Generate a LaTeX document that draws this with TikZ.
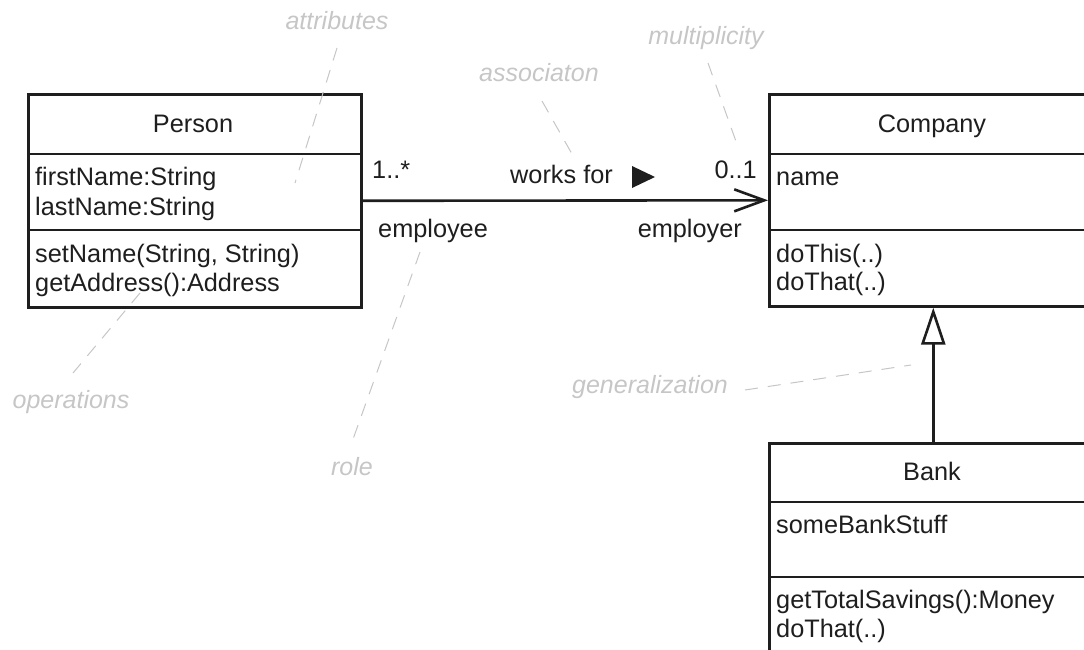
\documentclass[tikz,border=0pt]{standalone}
\usepackage{fontspec}
\setmainfont{Liberation Sans}
\usetikzlibrary{arrows.meta}

\definecolor{annotgray}{RGB}{198,198,198}
\definecolor{umlink}{RGB}{30,30,30}

\tikzset{
  classbox/.style={draw=umlink, line width=2.6pt, fill=white, inner sep=0pt, anchor=north west},
  divider/.style={draw=umlink, line width=2.4pt},
  txt/.style={inner sep=0pt, text=umlink, font=\fontsize{25.3}{30}\selectfont},
  annot/.style={inner sep=0pt, text=annotgray, font=\fontsize{25}{30}\selectfont\itshape},
  annotline/.style={draw=annotgray, line width=1pt, dash pattern=on 13pt off 10pt},
  assoc/.style={draw=umlink, line width=2.6pt, -{Straight Barb[length=30pt,width=22pt]}},
  gen/.style={draw=umlink, line width=2.6pt, -{Triangle[open,length=37pt,width=24pt,fill=white]}}
}

\begin{document}
\begin{tikzpicture}[x=1pt,y=-1pt]
\useasboundingbox (0,0) rectangle (1084,650);
\begin{scope}
\clip (0,0) rectangle (1084,650);

% annotation leader lines (drawn first, class boxes sit on top)
\coordinate (attrA) at (337,48);   \coordinate (attrB) at (295,183);
\coordinate (operA) at (140,293);  \coordinate (operB) at (73,373);
\coordinate (roleA) at (420,252);  \coordinate (roleB) at (352,442);
\coordinate (assoA) at (542,101);  \coordinate (assoB) at (572,154);
\coordinate (multA) at (708,63);   \coordinate (multB) at (738,147);
\coordinate (geneA) at (745,390);  \coordinate (geneB) at (911,365);
\draw[annotline] (attrA) -- (attrB);
\draw[annotline] (operA) -- (operB);
\draw[annotline] (roleA) -- (roleB);
\draw[annotline] (assoA) -- (assoB);
\draw[annotline] (multA) -- (multB);
\draw[annotline] (geneA) -- (geneB);

% classes
\node[classbox, minimum width=333pt, minimum height=213pt] (person) at (27,93) {};
\node[classbox, minimum width=328pt, minimum height=212pt] (company) at (768,93) {};
\node[classbox, minimum width=328pt, minimum height=250pt] (bank) at (768,442) {};

% compartment dividers
\draw[divider] (person.west |- 0,154) -- (person.east |- 0,154);
\draw[divider] (person.west |- 0,230) -- (person.east |- 0,230);
\draw[divider] (company.west |- 0,154) -- (company.east |- 0,154);
\draw[divider] (company.west |- 0,230) -- (company.east |- 0,230);
\draw[divider] (bank.west |- 0,502) -- (bank.east |- 0,502);
\draw[divider] (bank.west |- 0,577) -- (bank.east |- 0,577);

% redraw the annotation line over the Person box where it crosses it
\begin{scope}
\clip (person.north west) rectangle (person.south east);
\draw[annotline] (attrA) -- (attrB);
\draw[annotline] (operA) -- (operB);
\end{scope}

% Person
\node[txt, anchor=base] (personT) at (193,132) {Person};
\node[txt, anchor=base west] (p1) at (35,185) {firstName:String};
\node[txt, anchor=base west] (p2) at (35,215) {lastName:String};
\node[txt, anchor=base west] (p3) at (35,262) {setName(String, String)};
\node[txt, anchor=base west] (p4) at (35,291) {getAddress():Address};

% Company
\node[txt, anchor=base] (companyT) at (932,132) {Company};
\node[txt, anchor=base west] (c1) at (776,185) {name};
\node[txt, anchor=base west] (c2) at (776,262) {doThis(..)};
\node[txt, anchor=base west] (c3) at (776,290) {doThat(..)};

% Bank
\node[txt, anchor=base] (bankT) at (932,480) {Bank};
\node[txt, anchor=base west] (b1) at (776,533) {someBankStuff};
\node[txt, anchor=base west] (b2) at (776,608) {getTotalSavings():Money};
\node[txt, anchor=base west] (b3) at (776,637) {doThat(..)};

% association and generalization
\draw[assoc] (person.east) -- (company.west);
\draw[gen] (bank.north) -- (company.south);

% association labels
\node[txt, anchor=base west] (multP) at (372,178) {1..*};
\node[txt, anchor=base west] (worksfor) at (510,183) {works for};
\fill[umlink] (632,166) -- (655,177) -- (632,188) -- cycle;
\node[txt, anchor=base east] (multC) at (757,178) {0..1};
\node[txt, anchor=base west] (roleP) at (378,237) {employee};
\node[txt, anchor=base east] (roleC) at (742,237) {employer};

% annotations
\node[annot, anchor=base] (attrT) at (337,30) {attributes};
\node[annot, anchor=base] (multT) at (706,45) {multiplicity};
\node[annot, anchor=base] (assoT) at (539,82) {associaton};
\node[annot, anchor=base] (operT) at (71,408) {operations};
\node[annot, anchor=base] (roleT) at (352,475) {role};
\node[annot, anchor=base] (geneT) at (650,393) {generalization};
\end{scope}
\end{tikzpicture}
\end{document}
